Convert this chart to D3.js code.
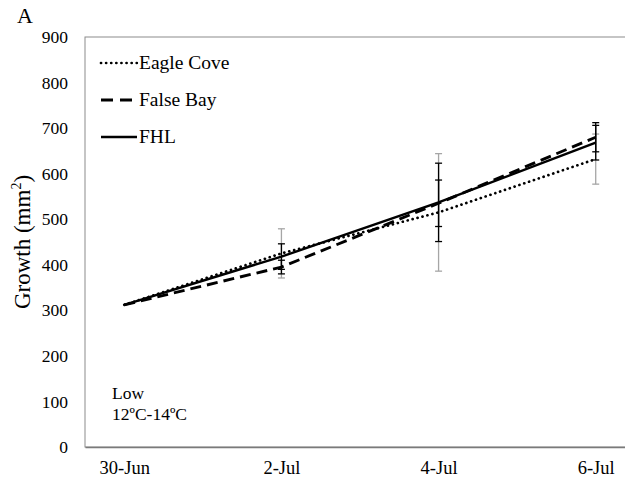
<!DOCTYPE html>
<html>
<head>
<meta charset="utf-8">
<script src="https://cdn.jsdelivr.net/npm/d3@7"></script>
<style>
  body { margin: 0; background: #fff; }
  svg text { font-family: "Liberation Serif", "Times New Roman", serif; fill: #000; }
</style>
</head>
<body>
<svg id="chart" width="625" height="481"></svg>
<script>
// dates on the x axis (days after 30-Jun)
var dateLabels = ["30-Jun", "2-Jul", "4-Jul", "6-Jul"];
var dayOffsets = [0, 2, 4, 6];
var yTicks = [0, 100, 200, 300, 400, 500, 600, 700, 800, 900];

// mean growth (mm2) per site
var eagleCove = [312, 425, 515, 632];
var falseBay = [312, 395, 535, 680];
var fhl = [312, 418, 537, 668];

// error bar half widths
var eagleCoveErr = [0, 54, 129, 55];
var falseBayErr = [0, 15, 51, 32];
var fhlErr = [0, 28, 86, 38];

var seriesNames = ["Eagle Cove", "False Bay", "FHL"];

var svg = d3.select("#chart");

// plot area edges (don't use "top", it is window.top)
var plotLeft = 85, plotTop = 37, plotBottom = 447, plotRight = 635;

var x = d3.scaleLinear().domain([-0.5, 6.5]).range([plotLeft, plotRight]);
var y = d3.scaleLinear().domain([0, 900]).range([plotBottom, plotTop]);

// plot frame
svg.append("rect")
    .attr("x", plotLeft)
    .attr("y", plotTop)
    .attr("width", plotRight - plotLeft)
    .attr("height", plotBottom - plotTop)
    .attr("fill", "none")
    .attr("stroke", "#8c8c8c")
    .attr("stroke-width", 1);

// y axis labels (no tick marks)
var yAxis = d3.axisLeft(y).tickValues(yTicks).tickSize(0).tickPadding(17);
var gy = svg.append("g").attr("transform", "translate(" + plotLeft + ",0)").call(yAxis);
gy.select(".domain").remove();
gy.selectAll("text").attr("font-size", 17.5).attr("font-family", "Liberation Serif");

// x axis
var xAxis = d3.axisBottom(x).tickValues(dayOffsets).tickSize(0).tickPadding(14)
    .tickFormat(function(d, i) { return dateLabels[i]; });
var gx = svg.append("g").attr("transform", "translate(0," + plotBottom + ")").call(xAxis);
gx.select(".domain").attr("stroke", "#7a7a7a").attr("stroke-width", 1.6);
gx.selectAll("text").attr("font-size", 18.5).attr("font-family", "Liberation Serif");

// error bars
var errSets = [
    {vals: eagleCove, err: eagleCoveErr, color: "#a6a6a6"},
    {vals: falseBay, err: falseBayErr, color: "#000"},
    {vals: fhl, err: fhlErr, color: "#000"}
];

errSets.forEach(function(s) {
    var g = svg.append("g");
    for (var i = 1; i < s.vals.length; i++) {
        var cx = x(dayOffsets[i]);
        var lo = y(s.vals[i] - s.err[i]);
        var hi = y(s.vals[i] + s.err[i]);
        g.append("line").attr("x1", cx).attr("x2", cx).attr("y1", lo).attr("y2", hi)
            .attr("stroke", s.color).attr("stroke-width", 1.3);
        g.append("line").attr("x1", cx - 3.5).attr("x2", cx + 3.5).attr("y1", lo).attr("y2", lo)
            .attr("stroke", s.color).attr("stroke-width", 1.3);
        g.append("line").attr("x1", cx - 3.5).attr("x2", cx + 3.5).attr("y1", hi).attr("y2", hi)
            .attr("stroke", s.color).attr("stroke-width", 1.3);
    }
});

// lines
var lineGen = d3.line()
    .x(function(d, i) { return x(dayOffsets[i]); })
    .y(function(d) { return y(d); });

var styles = [
    {dash: "0.1 5", width: 2.7, cap: "round"},
    {dash: "11 6", width: 2.9, cap: "butt"},
    {dash: null, width: 2.5, cap: "butt"}
];
var allSeries = [eagleCove, falseBay, fhl];

allSeries.forEach(function(s, k) {
    svg.append("path")
        .datum(s)
        .attr("d", lineGen)
        .attr("fill", "none")
        .attr("stroke", "#000")
        .attr("stroke-width", styles[k].width)
        .attr("stroke-linecap", styles[k].cap)
        .attr("stroke-dasharray", styles[k].dash);
});

// legend
var legendY = [63, 100, 137];
var legendDash = ["0.1 5", "12 7", null];
var legendEnd = [137, 133, 137];
seriesNames.forEach(function(name, k) {
    svg.append("line")
        .attr("x1", 101).attr("x2", legendEnd[k])
        .attr("y1", legendY[k]).attr("y2", legendY[k])
        .attr("stroke", "#000")
        .attr("stroke-width", styles[k].width)
        .attr("stroke-linecap", styles[k].cap)
        .attr("stroke-dasharray", legendDash[k]);
    svg.append("text")
        .attr("x", 139).attr("y", legendY[k] + 6)
        .attr("font-size", 19.5)
        .text(name);
});

// panel letter
svg.append("text").attr("x", 17).attr("y", 23).attr("font-size", 22).text("A");

// y title
var yt = svg.append("text")
    .attr("transform", "translate(30," + ((plotTop + plotBottom) / 2) + ") rotate(-90)")
    .attr("text-anchor", "middle")
    .attr("font-size", 23);
yt.append("tspan").text("Growth (mm");
yt.append("tspan").attr("font-size", 14).attr("dy", -9).text("2");
yt.append("tspan").attr("dy", 9).text(")");

// condition note
svg.append("text").attr("x", 112).attr("y", 399).attr("font-size", 17.5).text("Low");
svg.append("text").attr("x", 112).attr("y", 420).attr("font-size", 17.5).text("12ºC-14ºC");
</script>
</body>
</html>
